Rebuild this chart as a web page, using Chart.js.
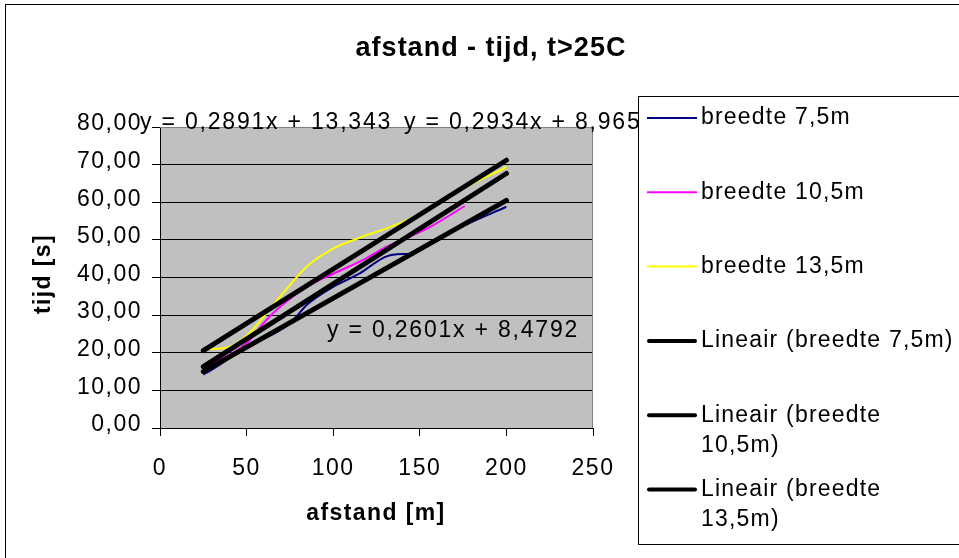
<!DOCTYPE html>
<html>
<head>
<meta charset="utf-8">
<script src="https://cdn.jsdelivr.net/npm/chart.js@4/dist/chart.umd.min.js"></script>
<style>
  html, body { margin: 0; padding: 0; background: #fff; }
  canvas { display: block; }
</style>
</head>
<body>
<canvas id="chart" width="959" height="558"></canvas>
<script>
// Measured travel times (tijd, s) against distance (afstand, m) for three road widths
const seriesNames = ['breedte 7,5m', 'breedte 10,5m', 'breedte 13,5m'];
const seriesColors = ['#000080', '#FF00FF', '#FFFF00'];

const afstand75 = [25, 30, 50, 75, 85, 100, 115, 130, 137, 145, 150, 175, 200];
const tijd75    = [14.2, 15.5, 21.5, 27.8, 32.8, 37.5, 41.0, 45.5, 46.2, 46.3, 47.8, 53.7, 58.8];

const afstand105 = [25, 50, 60, 70, 85, 100, 117, 130, 155, 176];
const tijd105    = [15.9, 22.5, 28.0, 32.5, 37.6, 41.0, 44.6, 48.0, 53.2, 59.0];

const afstand135 = [25, 37, 50, 65, 85, 100, 115, 135, 150, 175, 200];
const tijd135    = [21.0, 21.2, 24.5, 32.5, 43.0, 47.7, 50.5, 53.8, 56.8, 63.7, 69.3];

// Linear trend lines (Excel "Lineair") fitted to each series
const trendNames = ['Lineair (breedte 7,5m)', 'Lineair (breedte 10,5m)', 'Lineair (breedte 13,5m)'];
const trendSlopes = [0.2601, 0.2934, 0.2891];
const trendIntercepts = [8.4792, 8.965, 13.343];
const trendRange = [25, 200];

// Axis ticks
const xTicks = [0, 50, 100, 150, 200, 250];
const yTickLabels = ['0,00', '10,00', '20,00', '30,00', '40,00', '50,00', '60,00', '70,00', '80,00'];

const FONT = "'Liberation Sans', Arial, sans-serif";

function toPoints(xs, ys) { return xs.map((x, i) => ({ x: x, y: ys[i] })); }
function nl(v) { return String(v).replace('.', ','); }
function equationText(i) { return 'y = ' + nl(trendSlopes[i]) + 'x + ' + nl(trendIntercepts[i]); }

const measured = [[afstand75, tijd75], [afstand105, tijd105], [afstand135, tijd135]];

const datasets = [];
measured.forEach((s, i) => {
  datasets.push({
    label: seriesNames[i],
    data: toPoints(s[0], s[1]),
    borderColor: seriesColors[i],
    borderWidth: 2,
    pointRadius: 0,
    cubicInterpolationMode: 'monotone',
    order: 1
  });
});
trendSlopes.forEach((m, i) => {
  datasets.push({
    label: trendNames[i],
    data: trendRange.map(x => ({ x: x, y: m * x + trendIntercepts[i] })),
    borderColor: '#000',
    borderWidth: 5,
    borderCapStyle: 'round',
    pointRadius: 0,
    order: 0
  });
});

// Frame, plot background, title, axis titles, equations and legend
const decorations = {
  id: 'decorations',
  beforeDraw(chart) {
    const ctx = chart.ctx, a = chart.chartArea;
    ctx.save();
    ctx.fillStyle = '#fff';
    ctx.fillRect(0, 0, chart.width, chart.height);
    ctx.strokeStyle = '#000';
    ctx.lineWidth = 1;
    ctx.strokeRect(5.5, 4.5, 1000, 600);
    ctx.fillStyle = '#C0C0C0';
    ctx.fillRect(a.left, a.top, a.right - a.left, a.bottom - a.top);
    ctx.restore();
    ctx.letterSpacing = '1.5px';
  },
  beforeDatasetsDraw(chart) {
    const ctx = chart.ctx, a = chart.chartArea;
    ctx.save();
    ctx.strokeStyle = '#808080';
    ctx.lineWidth = 1;
    ctx.beginPath();
    ctx.moveTo(a.left, a.top + 0.5);
    ctx.lineTo(a.right - 0.5, a.top + 0.5);
    ctx.lineTo(a.right - 0.5, a.bottom);
    ctx.stroke();
    ctx.restore();
  },
  afterDraw(chart) {
    const ctx = chart.ctx;
    ctx.save();
    ctx.fillStyle = '#000';

    // Title
    ctx.letterSpacing = '1px';
    ctx.font = 'bold 27px ' + FONT;
    ctx.textAlign = 'center';
    ctx.textBaseline = 'middle';
    ctx.fillText('afstand - tijd, t>25C', 491, 49);

    // Axis titles
    ctx.letterSpacing = '1.4px';
    ctx.font = 'bold 23px ' + FONT;
    ctx.fillText('afstand [m]', 376, 514);
    ctx.save();
    ctx.translate(44, 274);
    ctx.rotate(-Math.PI / 2);
    ctx.fillText('tijd [s]', 0, 0);
    ctx.restore();

    // Trend line equations
    ctx.font = '23px ' + FONT;
    ctx.textAlign = 'left';
    ctx.textBaseline = 'alphabetic';
    ctx.letterSpacing = '1.8px';
    ctx.fillText(equationText(2), 140, 129);
    ctx.fillText(equationText(1), 404, 129);
    ctx.fillText(equationText(0), 327, 337);

    // Legend
    ctx.strokeStyle = '#000';
    ctx.lineWidth = 1;
    ctx.strokeRect(638.5, 96.5, 400, 448);
    const rowTop = 118, rowStep = 74.3, lineH = 30.5;
    const textX = 701, maxW = 256;
    ctx.letterSpacing = '1.2px';
    ctx.font = '23px ' + FONT;
    ctx.textBaseline = 'middle';
    chart.data.datasets.forEach((d, i) => {
      const y = rowTop + i * rowStep;
      const thick = d.borderWidth >= 4;
      ctx.strokeStyle = d.borderColor;
      ctx.lineWidth = thick ? 4 : 2;
      ctx.lineCap = thick ? 'round' : 'butt';
      ctx.beginPath();
      ctx.moveTo(thick ? 649 : 647, y);
      ctx.lineTo(thick ? 695 : 697, y);
      ctx.stroke();
      // word wrap inside the legend box
      const words = d.label.split(' ');
      const lines = [];
      let cur = '';
      words.forEach(w => {
        const t = cur ? cur + ' ' + w : w;
        if (cur && ctx.measureText(t).width > maxW) { lines.push(cur); cur = w; }
        else cur = t;
      });
      lines.push(cur);
      lines.forEach((ln, k) => ctx.fillText(ln, textX, y + k * lineH));
    });
    ctx.restore();
  }
};

Chart.defaults.color = '#000';

new Chart(document.getElementById('chart'), {
  type: 'line',
  data: { datasets: datasets },
  options: {
    responsive: false,
    animation: false,
    events: [],
    layout: { padding: { top: 127, right: 366, left: 0, bottom: 0 } },
    plugins: { legend: { display: false }, title: { display: false }, tooltip: { enabled: false } },
    scales: {
      x: {
        type: 'linear',
        min: 0, max: 250,
        afterBuildTicks(scale) { scale.ticks = xTicks.map(v => ({ value: v })); },
        afterFit(scale) { scale.height = 130; },
        ticks: { font: { family: FONT, size: 23 }, padding: 19, maxRotation: 0 },
        grid: { drawOnChartArea: false, drawTicks: true, tickLength: 8, tickColor: '#000' },
        border: { color: '#000', width: 1 }
      },
      y: {
        type: 'linear',
        min: 0, max: 80,
        ticks: {
          stepSize: 10,
          font: { family: FONT, size: 23 },
          padding: 10,
          labelOffset: -3,
          callback: (v, i) => yTickLabels[i]
        },
        afterFit(scale) { scale.width = 160; },
        grid: {
          color: c => (c.tick && c.tick.value === 80) ? '#808080' : '#000',
          lineWidth: 1,
          drawTicks: true,
          tickLength: 8,
          tickColor: '#000'
        },
        border: { color: '#000', width: 1 }
      }
    }
  },
  plugins: [decorations]
});
</script>
</body>
</html>
